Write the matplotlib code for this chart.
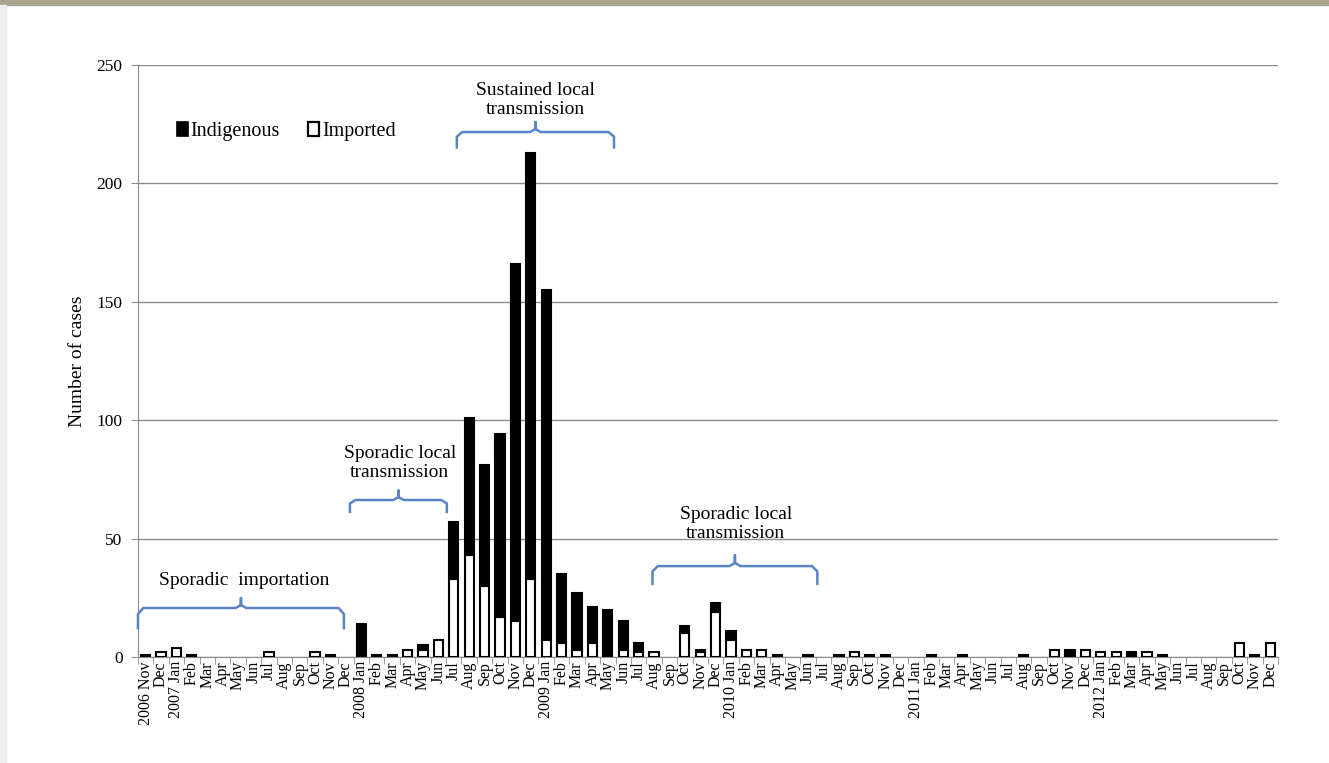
import numpy as np
import matplotlib.pyplot as plt
from matplotlib.patches import Patch, Rectangle

plt.rcParams['font.family'] = ['Liberation Serif', 'DejaVu Serif']

# monthly case counts, Nov 2006 - Dec 2012
months = ['Jan', 'Feb', 'Mar', 'Apr', 'May', 'Jun',
          'Jul', 'Aug', 'Sep', 'Oct', 'Nov', 'Dec']
labels = ['2006 Nov', 'Dec']
for yr in range(2007, 2013):
    labels += [f'{yr} Jan'] + months[1:]

imported = [1, 2, 4, 1, 0, 0, 0, 0, 2, 0, 0, 2, 1, 0,
            0, 1, 1, 3, 3, 7, 33, 43, 30, 17, 15, 33,
            7, 6, 3, 6, 1, 3, 2, 2, 0, 10, 2, 19,
            7, 3, 3, 1, 0, 1, 0, 1, 2, 1, 1, 0,
            0, 1, 0, 1, 0, 0, 0, 1, 0, 3, 0, 3,
            2, 2, 0, 2, 1, 0, 0, 0, 0, 6, 1, 6]
indigenous = [0, 0, 0, 0, 0, 0, 0, 0, 0, 0, 0, 0, 0, 0,
              14, 0, 0, 0, 2, 0, 24, 58, 51, 77, 151, 180,
              148, 29, 24, 15, 19, 12, 4, 0, 0, 3, 1, 4,
              4, 0, 0, 0, 0, 0, 0, 0, 0, 0, 0, 0,
              0, 0, 0, 0, 0, 0, 0, 0, 0, 0, 3, 0,
              0, 0, 2, 0, 0, 0, 0, 0, 0, 0, 0, 0]

imported = np.array(imported)
indigenous = np.array(indigenous)
x = np.arange(len(labels))

fig = plt.figure(figsize=(13.29, 7.63), dpi=100)
fig.patches.append(Rectangle((0, 0.993), 1, 0.007, transform=fig.transFigure,
                             color='#a8a490', zorder=0))
fig.patches.append(Rectangle((0, 0), 0.0045, 0.993, transform=fig.transFigure,
                             color='#efefec', zorder=0))
ax = fig.add_axes([0.1038, 0.1389, 0.8578, 0.7759])

w = 0.6
m = imported > 0
ax.bar(x[m], imported[m], w, color='white', edgecolor='black', lw=1.5, zorder=3)
m = indigenous > 0
ax.bar(x[m], indigenous[m], w, bottom=imported[m], color='black',
       edgecolor='black', lw=1.5, zorder=3)

ax.set_xlim(-0.5, len(labels) - 0.5)
ax.set_ylim(0, 250)
ax.set_yticks(range(0, 251, 50))
ax.grid(axis='y', color='#8c8c8c', lw=1.0, zorder=0)
for s in ['top', 'right']:
    ax.spines[s].set_visible(False)
for s in ['left', 'bottom']:
    ax.spines[s].set_color('#8c8c8c')
ax.tick_params(axis='y', labelsize=12.5, length=5, color='#8c8c8c', pad=6)

ax.set_xticks(x)
ax.set_xticklabels(labels, rotation=90, fontsize=11.5)
ax.set_xticks(np.arange(-0.5, len(labels)), minor=True)
ax.tick_params(axis='x', which='major', length=0, pad=3)
ax.tick_params(axis='x', which='minor', length=5, color='#8c8c8c')
ax.set_ylabel('Number of cases', fontsize=14, labelpad=8)

blue = '#5b84c4'


def brace(x0, x1, y, drop, rise):
    xm = (x0 + x1) / 2
    r = 0.35
    ax.plot([x0, x0, x0 + r, xm - r, xm, xm, xm, xm + r, x1 - r, x1, x1],
            [y - drop, y - drop * 0.3, y, y, y + rise * 0.3, y + rise,
             y + rise * 0.3, y, y, y - drop * 0.3, y - drop],
            color=blue, lw=1.8, zorder=4, clip_on=False,
            solid_joinstyle='round')


brace(-0.5, 12.87, 20.7, 8.5, 4.2)
brace(13.26, 19.55, 66.3, 5.0, 4.0)
brace(20.2, 30.4, 221.7, 6.5, 4.2)
brace(32.9, 43.6, 38.4, 7.5, 4.5)

tkw = dict(ha='center', va='center', fontsize=14, zorder=5)
ax.text(6.4, 32.5, 'Sporadic  importation', **tkw)
ax.text(16.5, 81.8, 'Sporadic local\ntransmission', linespacing=1.15, **tkw)
ax.text(25.3, 235.3, 'Sustained local\ntransmission', linespacing=1.15, **tkw)
ax.text(38.3, 56.2, 'Sporadic local\ntransmission', linespacing=1.15, **tkw)

handles = [Patch(facecolor='black', edgecolor='black', lw=1.2),
           Patch(facecolor='white', edgecolor='black', lw=1.6)]
ax.legend(handles, ['Indigenous', 'Imported'], ncol=2, frameon=False,
          fontsize=14.5, handlelength=0.55, handleheight=0.7,
          handletextpad=0.15, columnspacing=1.4,
          loc='center left', bbox_to_anchor=(0.018, 0.888))

fig.savefig('out.png', dpi=100, facecolor='white')
